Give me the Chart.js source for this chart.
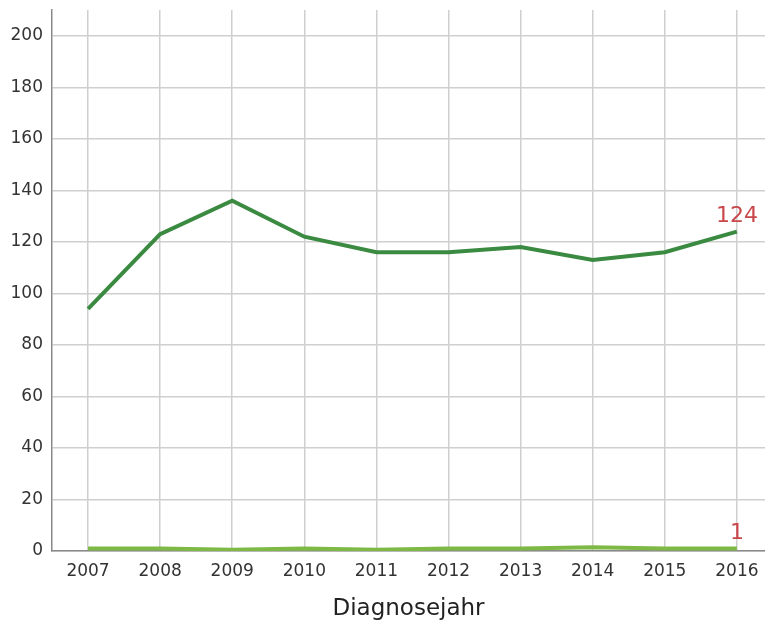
<!DOCTYPE html>
<html>
<head>
<meta charset="utf-8">
<script src="https://cdn.jsdelivr.net/npm/chart.js@4"></script>
<style>
  html, body { margin: 0; padding: 0; background: #fff; overflow: hidden; }
  #wrap { width: 765px; height: 625px; }
</style>
</head>
<body>
<div id="wrap"><canvas id="chart"></canvas></div>
<script>
// ------------ DATA ---------------
const years = [2007, 2008, 2009, 2010, 2011, 2012, 2013, 2014, 2015, 2016];
const casesMain = [94, 123, 136, 122, 116, 116, 118, 113, 116, 124];
const casesSmall = [1, 1, 0.5, 1, 0.5, 1, 1, 1.5, 1, 1];
const yTicks = [0, 20, 40, 60, 80, 100, 120, 140, 160, 180, 200];

const toPoints = (vals) => vals.map((v, i) => ({ x: years[i], y: v }));

// red number at the last point of every line
const endLabels = {
  id: 'endLabels',
  afterDatasetsDraw(chart) {
    const ctx = chart.ctx;
    ctx.save();
    ctx.font = '22px "DejaVu Sans"';
    ctx.fillStyle = '#c9474a';
    ctx.textAlign = 'center';
    ctx.textBaseline = 'bottom';
    chart.data.datasets.forEach((ds, i) => {
      const meta = chart.getDatasetMeta(i);
      const last = meta.data[meta.data.length - 1];
      const val = ds.data[ds.data.length - 1].y;
      ctx.fillText(String(Math.round(val)), last.x, last.y - 4);
    });
    ctx.restore();
  }
};

new Chart(document.getElementById('chart'), {
  type: 'line',
  data: {
    datasets: [
      {
        label: 'a',
        data: toPoints(casesMain),
        borderColor: '#3b8a41',
        borderWidth: 4,
        pointRadius: 0,
        tension: 0
      },
      {
        label: 'b',
        data: toPoints(casesSmall),
        borderColor: '#7db944',
        borderWidth: 4,
        pointRadius: 0,
        tension: 0
      }
    ]
  },
  options: {
    responsive: true,
    maintainAspectRatio: false,
    animation: false,
    layout: { padding: { top: 10, right: 0, left: 0, bottom: 0 } },
    plugins: {
      legend: { display: false },
      tooltip: { enabled: false }
    },
    scales: {
      x: {
        type: 'linear',
        min: 2006.5,
        max: 2016.39,
        afterBuildTicks: (scale) => { scale.ticks = years.map(v => ({ value: v })); },
        afterFit: (scale) => {
          scale.height = 74;
          scale.paddingLeft = 0;
          scale.paddingRight = 0;
        },
        grid: { color: '#cfcfcf', lineWidth: 1.5, drawTicks: false },
        border: { color: '#8a8a8a', width: 1.5 },
        ticks: {
          color: '#333',
          font: { family: 'DejaVu Sans', size: 17 },
          padding: 10,
          maxRotation: 0,
          callback: (v) => String(v)
        },
        title: {
          display: true,
          text: 'Diagnosejahr',
          color: '#222',
          font: { family: 'DejaVu Sans', size: 23 },
          padding: { top: 0, bottom: 2 }
        }
      },
      y: {
        min: 0,
        max: 210,
        afterBuildTicks: (scale) => { scale.ticks = yTicks.map(v => ({ value: v })); },
        afterFit: (scale) => {
          scale.width = 52;
          scale.paddingTop = 0;
          scale.paddingBottom = 0;
        },
        grid: { color: '#cfcfcf', lineWidth: 1.5, drawTicks: false },
        border: { color: '#8a8a8a', width: 1.5 },
        ticks: {
          color: '#333',
          font: { family: 'DejaVu Sans', size: 17 },
          padding: 9
        }
      }
    }
  },
  plugins: [endLabels]
});
</script>
</body>
</html>
